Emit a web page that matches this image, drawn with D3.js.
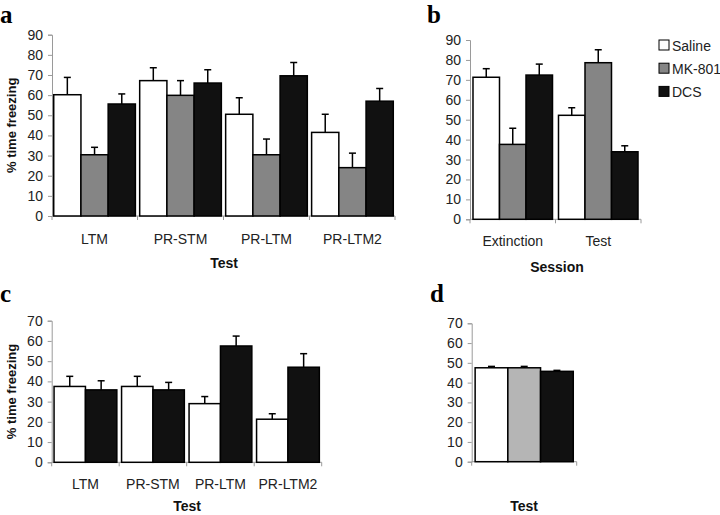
<!DOCTYPE html>
<html><head><meta charset="utf-8">
<script src="https://cdn.jsdelivr.net/npm/d3@7"></script>
<style>body{margin:0;background:#fff}svg{display:block}</style>
</head><body>
<svg id="c" width="720" height="515"></svg>
<script>
// ---- data ----
const groupsA = ["Saline","MK-801","DCS"];
const catsA = ["LTM","PR-STM","PR-LTM","PR-LTM2"];
const salineA = [60.2, 67.2, 50.5, 41.5];
const salineAErr = [8.6, 6.4, 8.2, 9.0];
const mkA = [30.4, 59.9, 30.4, 24.0];
const mkAErr = [3.7, 7.3, 7.8, 7.2];
const dcsA = [55.6, 66.0, 69.6, 57.0];
const dcsAErr = [5.0, 6.6, 6.6, 6.3];

const catsB = ["Extinction","Test"];
const salineB = [71.3, 52.2];
const salineBErr = [4.3, 3.8];
const mkB = [37.6, 78.6];
const mkBErr = [8.1, 6.5];
const dcsB = [72.4, 33.9];
const dcsBErr = [5.5, 3.0];

const groupsC = ["Saline","DCS"];
const catsC = ["LTM","PR-STM","PR-LTM","PR-LTM2"];
const salineC = [37.5, 37.5, 29.0, 21.3];
const salineCErr = [5.0, 5.0, 3.5, 2.7];
const dcsC = [35.8, 35.8, 57.5, 47.0];
const dcsCErr = [4.5, 3.7, 4.9, 6.7];

const catsD = [""];
const groupsD = ["Saline","MK-801","DCS"];
const valsD = [47.5, 47.5, 45.7];
const valsDErr = [0.7, 0.7, 0.5];

const ticksAB = [0,10,20,30,40,50,60,70,80,90];
const ticksCD = [0,10,20,30,40,50,60,70];

// ---- styles ----
const fills = {"Saline":"#ffffff","MK-801":"#858585","DCS":"#111111"};
const fillsD = {"Saline":"#ffffff","MK-801":"#b5b5b5","DCS":"#111111"};
const FONT = "'Liberation Sans', Arial, sans-serif";
const svg = d3.select("#c");

function panel(o){
  const g = svg.append("g");
  const y = d3.scaleLinear().domain([0, o.ymax]).range([o.y0, o.y1]);
  const x0 = d3.scaleBand().domain(o.cats).range([o.xl, o.xr]).paddingInner(o.pi).paddingOuter(o.po);
  const x1 = d3.scaleBand().domain(o.groups).range([0, x0.bandwidth()]);
  // y axis
  const ya = g.append("g").attr("transform",`translate(${o.xl},0)`)
    .call(d3.axisLeft(y).tickValues(o.ticks).tickSize(4).tickPadding(5));
  ya.select(".domain").attr("stroke","#9a9a9a").attr("stroke-width",1);
  ya.selectAll(".tick line").attr("stroke","#9a9a9a");
  ya.selectAll(".tick text").attr("font-family",FONT).attr("font-size",14).attr("fill","#222");
  // x axis (line + boundary ticks)
  const xa = g.append("g").attr("transform",`translate(0,${o.y0})`);
  xa.append("line").attr("x1",o.xl).attr("x2",o.xr).attr("stroke","#9a9a9a");
  const bounds = o.cats.map(c => x0(c) - x0.step()*x0.paddingInner()/2);
  bounds[0] = o.xl; bounds.push(o.xr);
  xa.selectAll("line.tk").data(bounds).join("line").attr("class","tk")
    .attr("x1",d=>d).attr("x2",d=>d).attr("y1",0).attr("y2",4).attr("stroke","#9a9a9a");
  xa.selectAll("text").data(o.cats).join("text")
    .attr("x",d=>x0(d)+x0.bandwidth()/2).attr("y",o.labelDy)
    .attr("text-anchor","middle").attr("font-family",FONT).attr("font-size",14).attr("fill","#222")
    .text(d=>d);
  // bars
  const rows = [];
  o.cats.forEach((c,i)=>o.groups.forEach(gr=>rows.push({c, gr, v:o.data[gr][i], e:o.err[gr][i]})));
  g.selectAll("rect.bar").data(rows).join("rect").attr("class","bar")
    .attr("x",d=>x0(d.c)+x1(d.gr)).attr("width",x1.bandwidth())
    .attr("y",d=>y(d.v)).attr("height",d=>o.y0-y(d.v))
    .attr("fill",d=>o.fills[d.gr]).attr("stroke","#000").attr("stroke-width",1.5);
  // error bars (upper only)
  const eb = g.selectAll("g.eb").data(rows).join("g").attr("class","eb");
  eb.append("line").attr("x1",d=>x0(d.c)+x1(d.gr)+x1.bandwidth()/2).attr("x2",d=>x0(d.c)+x1(d.gr)+x1.bandwidth()/2)
    .attr("y1",d=>y(d.v)).attr("y2",d=>y(d.v+d.e)).attr("stroke","#000").attr("stroke-width",1.5);
  eb.append("line").attr("x1",d=>x0(d.c)+x1(d.gr)+x1.bandwidth()/2-3.5).attr("x2",d=>x0(d.c)+x1(d.gr)+x1.bandwidth()/2+3.5)
    .attr("y1",d=>y(d.v+d.e)).attr("y2",d=>y(d.v+d.e)).attr("stroke","#000").attr("stroke-width",1.5);
  // titles
  g.append("text").attr("x",o.titleX).attr("y",o.titleY).attr("text-anchor","middle")
    .attr("font-family",FONT).attr("font-weight","bold").attr("font-size",14).attr("fill","#111").text(o.xTitle);
  if (o.yTitle) {
    g.append("text").attr("transform",`translate(${o.yTitleX},${(o.y0+o.y1)/2}) rotate(-90)`)
      .attr("text-anchor","middle").attr("font-family",FONT).attr("font-weight","bold").attr("font-size",13)
      .attr("fill","#111").text(o.yTitle);
  }
  svg.append("text").attr("x",o.letter[1]).attr("y",o.letter[2]).attr("font-family","'Liberation Serif', 'Times New Roman', serif")
    .attr("font-weight","bold").attr("font-size",25).attr("fill","#000").text(o.letter[0]);
}

panel({cats:catsA, groups:groupsA, ymax:90, ticks:ticksAB, y0:216, y1:34.7, xl:52, xr:395, pi:0.05, po:0.02,
  data:{"Saline":salineA,"MK-801":mkA,"DCS":dcsA}, err:{"Saline":salineAErr,"MK-801":mkAErr,"DCS":dcsAErr},
  fills:fills, labelDy:28, xTitle:"Test", titleX:224, titleY:268, yTitle:"% time freezing", yTitleX:16, letter:["a",0,23]});

panel({cats:catsB, groups:groupsA, ymax:90, ticks:ticksAB, y0:219.3, y1:40, xl:470, xr:641, pi:0.07, po:0.035,
  data:{"Saline":salineB,"MK-801":mkB,"DCS":dcsB}, err:{"Saline":salineBErr,"MK-801":mkBErr,"DCS":dcsBErr},
  fills:fills, labelDy:27, xTitle:"Session", titleX:557, titleY:272, yTitle:null, letter:["b",427,23]});

panel({cats:catsC, groups:groupsC, ymax:70, ticks:ticksCD, y0:462.3, y1:320.7, xl:51.7, xr:321.7, pi:0.07, po:0.035,
  data:{"Saline":salineC,"DCS":dcsC}, err:{"Saline":salineCErr,"DCS":dcsCErr},
  fills:fills, labelDy:27, xTitle:"Test", titleX:187, titleY:511, yTitle:"% time freezing", yTitleX:16, letter:["c",0,302]});

panel({cats:catsD, groups:groupsD, ymax:70, ticks:ticksCD, y0:461.7, y1:323.3, xl:471.7, xr:576.7, pi:0, po:0.035,
  data:{"Saline":[valsD[0]],"MK-801":[valsD[1]],"DCS":[valsD[2]]}, err:{"Saline":[valsDErr[0]],"MK-801":[valsDErr[1]],"DCS":[valsDErr[2]]},
  fills:fillsD, labelDy:27, xTitle:"Test", titleX:524, titleY:511, yTitle:null, letter:["d",430,302]});

// legend
const lg = svg.append("g").attr("transform","translate(659,40)");
groupsA.forEach((gr,i)=>{
  lg.append("rect").attr("x",0).attr("y",i*23.2).attr("width",10).attr("height",10)
    .attr("fill",fills[gr]).attr("stroke","#000").attr("stroke-width",1);
  lg.append("text").attr("x",13).attr("y",i*23.2+10.5).attr("font-family",FONT).attr("font-size",14)
    .attr("fill","#222").text(gr);
});
</script>
</body></html>
